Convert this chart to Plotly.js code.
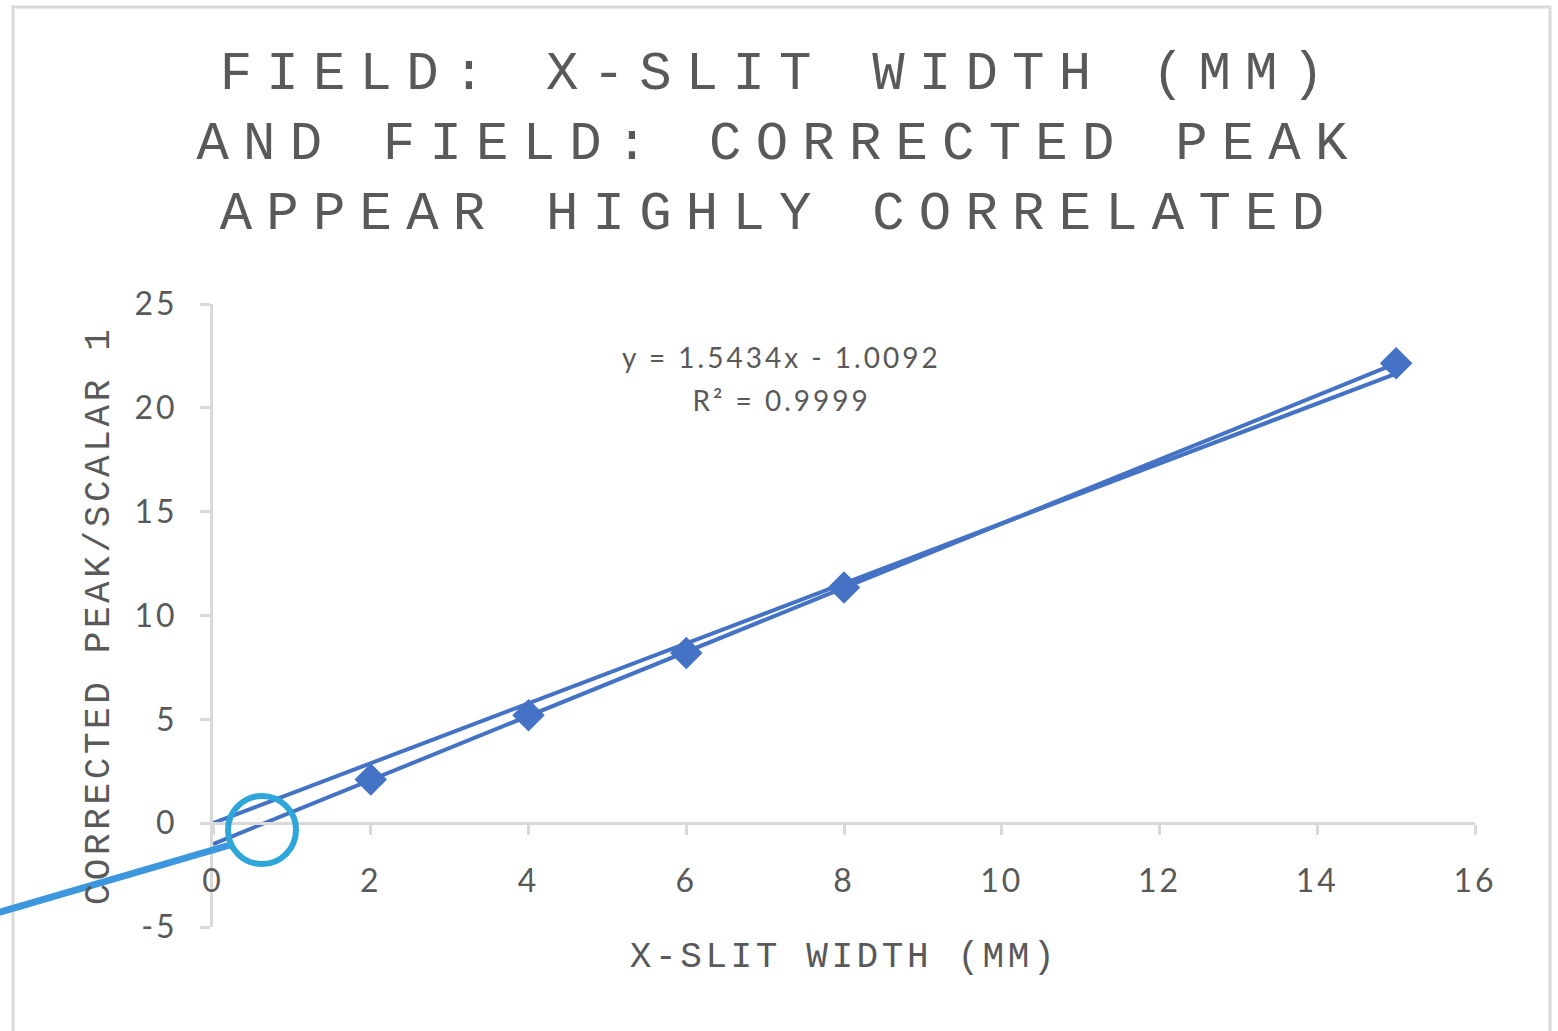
<!DOCTYPE html>
<html><head><meta charset="utf-8">
<script src="https://cdn.plot.ly/plotly-3.0.1.min.js"></script>
<style>
html,body{margin:0;padding:0;background:#fff;}
#chart .gtitle{letter-spacing:14.2px;}
#chart .xtitle,#chart .ytitle{letter-spacing:3.6px;}
#chart .xtick text,#chart .ytick text{letter-spacing:3px;}
#chart .annotation-text{letter-spacing:3px;}
</style></head><body>
<div id="chart" style="width:1558px;height:1031px;"></div>
<script>
// ---- data ----
const slitWidth = [2, 4, 6, 8, 15];
const correctedPeak = [2.1, 5.2, 8.2, 11.35, 22.15];
const trendX = [0, 15];
const trendY = [-1.0092, 22.1418];
const zeroFitX = [0, 15];
const zeroFitY = [0, 21.65];
const xTicks = [0, 2, 4, 6, 8, 10, 12, 14, 16];
const yTicks = [-5, 0, 5, 10, 15, 20, 25];
const equationText = 'y = 1.5434x - 1.0092';
const r2Text = 'R² = 0.9999';
const titleText = 'FIELD: X-SLIT WIDTH (MM)<br>AND FIELD: CORRECTED PEAK<br>APPEAR HIGHLY CORRELATED';
const xTitle = 'X-SLIT WIDTH (MM)';
const yTitle = 'CORRECTED PEAK/SCALAR 1';

// ---- layout geometry ----
const W = 1558, H = 1031;
const M = {l: 213, r: 83, t: 304, b: 104};
const pw = W - M.l - M.r, ph = H - M.t - M.b;
const px = x => (x - M.l) / pw;          // pixel x -> paper
const py = y => (H - M.b - y) / ph;      // pixel y -> paper

const blue = '#4472C4';
const grey = '#595959';
const axisGrey = '#d9d9d9';
const mono = 'Liberation Mono, Courier New, monospace';
const sans = 'Lato, Open Sans, sans-serif';

const traces = [
  {x: trendX, y: trendY, mode: 'lines', line: {color: blue, width: 4}, hoverinfo: 'skip', showlegend: false},
  {x: zeroFitX, y: zeroFitY, mode: 'lines', line: {color: blue, width: 4}, hoverinfo: 'skip', showlegend: false},
  {x: slitWidth, y: correctedPeak, mode: 'markers', marker: {symbol: 'diamond', size: 25, color: blue}, showlegend: false}
];

const layout = {
  width: W, height: H,
  margin: M,
  paper_bgcolor: '#fff', plot_bgcolor: '#fff',
  showlegend: false,
  title: {
    text: titleText,
    font: {family: mono, size: 54, color: grey},
    x: 0.5, xref: 'container', xanchor: 'center',
    y: 1 - 89 / H, yref: 'container', yanchor: 'top'
  },
  xaxis: {
    range: [0, 16], tickvals: xTicks, ticktext: xTicks.map(String),
    anchor: 'free', position: 5 / 30,
    showline: true, linecolor: axisGrey, linewidth: 3,
    ticks: 'outside', ticklen: 10, tickwidth: 3, tickcolor: axisGrey,
    showgrid: false, zeroline: false,
    tickfont: {family: sans, size: 32, color: grey},
    ticklabelstandoff: 18,
    title: {text: xTitle, font: {family: mono, size: 36, color: grey}, standoff: 44},
    fixedrange: true
  },
  yaxis: {
    range: [-5, 25], tickvals: yTicks, ticktext: yTicks.map(String),
    showline: true, linecolor: axisGrey, linewidth: 3,
    ticks: 'outside', ticklen: 10, tickwidth: 3, tickcolor: axisGrey,
    showgrid: false, zeroline: false,
    tickfont: {family: sans, size: 32, color: grey},
    ticklabelstandoff: 16,
    title: {text: yTitle, font: {family: mono, size: 36, color: grey}, standoff: 20},
    fixedrange: true
  },
  annotations: [
    {text: equationText, xref: 'paper', yref: 'paper', x: px(781), y: py(357), xanchor: 'center', yanchor: 'middle', showarrow: false, font: {family: sans, size: 28, color: grey}},
    {text: r2Text, xref: 'paper', yref: 'paper', x: px(781), y: py(400), xanchor: 'center', yanchor: 'middle', showarrow: false, font: {family: sans, size: 28, color: grey}}
  ],
  shapes: [
    {type: 'rect', xref: 'paper', yref: 'paper', x0: px(13), x1: px(1550), y0: py(1045), y1: py(7), line: {color: axisGrey, width: 3}, layer: 'below'},
    {type: 'line', xref: 'paper', yref: 'paper', x0: px(-10), y0: py(915), x1: px(230), y1: py(845), line: {color: '#3d97df', width: 7}},
    {type: 'circle', xref: 'paper', yref: 'paper', x0: px(228), x1: px(296), y0: py(864), y1: py(796), line: {color: '#2fa6d9', width: 6}}
  ]
};

Plotly.newPlot('chart', traces, layout, {displayModeBar: false, staticPlot: true});
</script>
</body></html>
